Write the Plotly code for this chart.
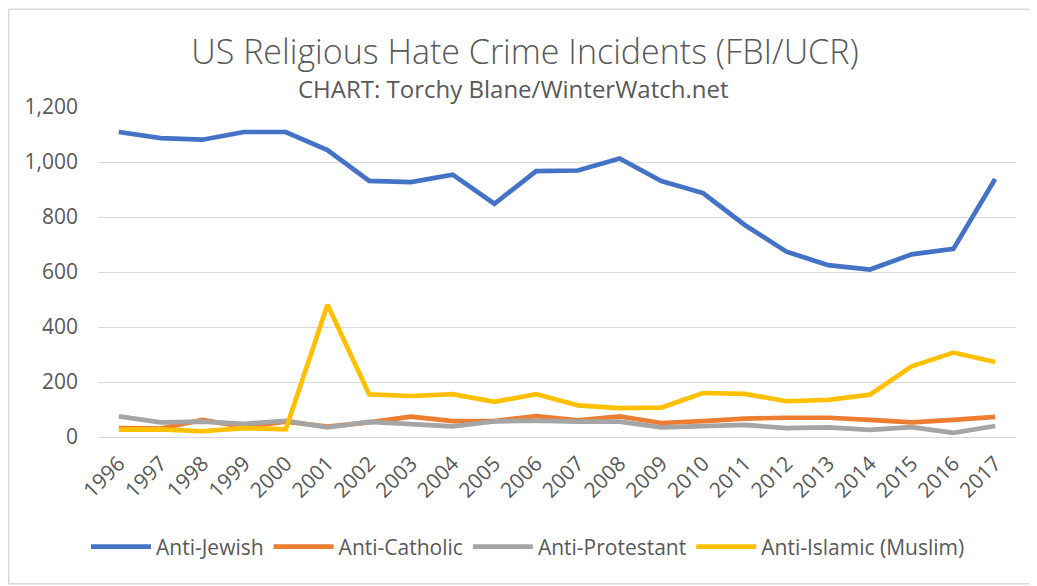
import plotly.graph_objects as go

years = [str(y) for y in range(1996, 2018)]
anti_jewish = [1109, 1087, 1081, 1109, 1109, 1043, 931, 927, 954, 848, 967, 969, 1013, 931, 887, 771, 674, 625, 609, 664, 684, 938]
anti_catholic = [32, 31, 62, 37, 56, 38, 53, 74, 58, 58, 76, 61, 75, 51, 58, 67, 70, 70, 62, 53, 62, 73]
anti_protestant = [75, 53, 56, 48, 59, 35, 55, 49, 39, 57, 59, 56, 56, 35, 41, 44, 32, 35, 26, 36, 15, 40]
anti_islamic = [27, 28, 21, 32, 28, 481, 155, 149, 156, 128, 156, 115, 105, 107, 160, 157, 130, 135, 154, 257, 307, 273]

series = [
    ("Anti-Jewish", anti_jewish, "#4472C4"),
    ("Anti-Catholic", anti_catholic, "#ED7D31"),
    ("Anti-Protestant", anti_protestant, "#A5A5A5"),
    ("Anti-Islamic (Muslim)", anti_islamic, "#FFC000"),
]

TXT = "#595959"
FONT = "Open Sans"

fig = go.Figure()
for name, vals, col in series:
    fig.add_trace(go.Scatter(x=years, y=vals, name=name, mode="lines",
                             line=dict(color=col, width=4.7)))

# page body adds an 8px offset; work in screen coordinates and shift
OFF = 8
W, H = 1037 - OFF, 586 - OFF
L = 98 - OFF
R = W - (1016 - OFF)
T = 106.7 - OFF
B = H - (437 - OFF)
pw = W - L - R
ph = H - T - B

def px(x):
    return (x - OFF - L) / pw

def py(y):
    return (H - B - (y - OFF)) / ph

fig.update_layout(
    width=W, height=H,
    margin=dict(l=L, r=R, t=T, b=B),
    paper_bgcolor="white", plot_bgcolor="white",
    font=dict(family=FONT, color=TXT, size=21),
    title=dict(text="US Religious Hate Crime Incidents (FBI/UCR)",
               font=dict(family=FONT, size=34, color=TXT, weight=300),
               x=(525 - OFF) / W, xanchor="center", xref="container",
               y=1 - (52 - OFF) / H, yanchor="middle", yref="container"),
    showlegend=True,
    legend=dict(orientation="h", x=px(528), xanchor="center",
                y=py(547), yanchor="middle",
                font=dict(family=FONT, size=21, color=TXT),
                itemwidth=60, tracegroupgap=0),
    xaxis=dict(type="category", range=[-0.5, 21.5], showgrid=False,
               zeroline=False, showline=False, ticks="", tickangle=-45,
               tickfont=dict(family=FONT, size=21, color=TXT),
               ticklabelstandoff=9),
    yaxis=dict(range=[0, 1200], dtick=200, tickformat=",",
               showgrid=True, gridcolor="#D9D9D9", gridwidth=1.3,
               zeroline=True, zerolinecolor="#D9D9D9", zerolinewidth=1.3,
               showline=False, ticks="",
               tickfont=dict(family=FONT, size=21, color=TXT),
               ticklabelstandoff=19),
)

fig.add_annotation(text="CHART: Torchy Blane/WinterWatch.net",
                   xref="paper", yref="paper", x=px(513), y=py(88),
                   xanchor="center", yanchor="middle", showarrow=False,
                   font=dict(family=FONT, size=24, color=TXT))

fig.add_shape(type="rect", xref="paper", yref="paper",
              x0=px(OFF + 0.75), x1=px(1050), y0=py(584), y1=py(OFF + 0.75),
              line=dict(color="#D9D9D9", width=1.5), layer="below")

fig.write_html("out.html")
